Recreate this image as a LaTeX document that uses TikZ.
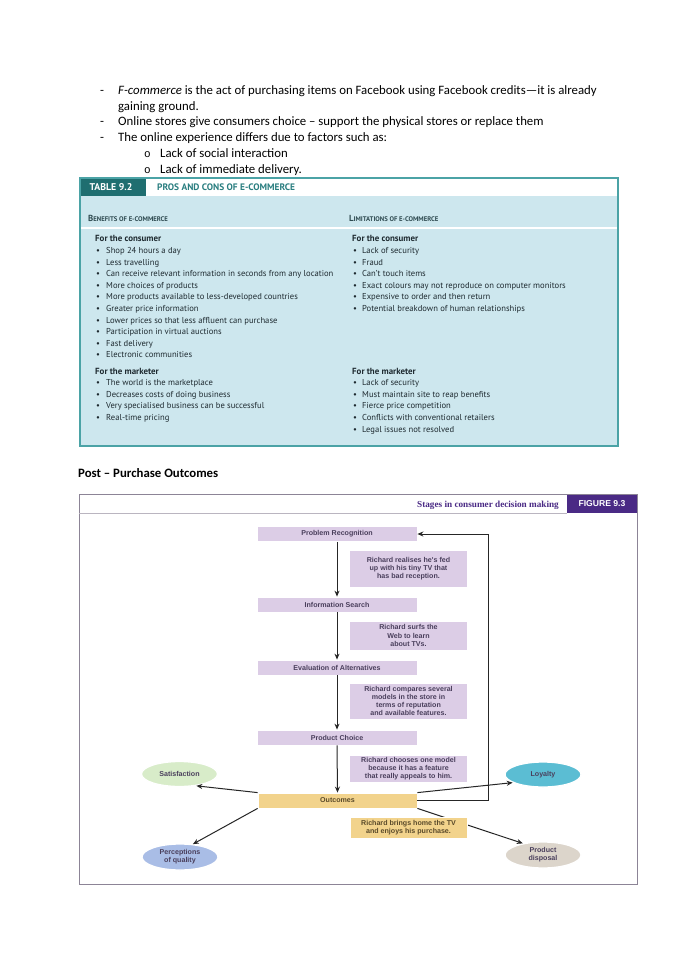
\documentclass[tikz,border=0pt]{standalone}
\usepackage{fontspec}
\setmainfont{Carlito}
\newfontfamily\tabfont{PT Sans}
\newfontfamily\figfont{Liberation Sans}
\newfontfamily\figserif{Liberation Serif}
\newfontfamily\monofnt{Liberation Mono}
\usetikzlibrary{arrows.meta,shapes.geometric}
\definecolor{tealdark}{HTML}{1F6E70}
\definecolor{tealline}{HTML}{4BA3A6}
\definecolor{tablefill}{HTML}{CDE7EE}
\definecolor{tealtext}{HTML}{2A7E80}
\definecolor{headtext}{HTML}{2E4A50}
\definecolor{bodytext}{HTML}{1E2A30}
\definecolor{figpurple}{HTML}{4A2A85}
\definecolor{figborder}{HTML}{8C8496}
\definecolor{stepfill}{HTML}{DCCDE6}
\definecolor{outfill}{HTML}{F2D38C}
\definecolor{figtext}{HTML}{4A3F5C}
\definecolor{outtext}{HTML}{5A4A2A}
\definecolor{satfill}{HTML}{D8ECC9}
\definecolor{loyfill}{HTML}{5BBDD3}
\definecolor{percfill}{HTML}{A9BDE6}
\definecolor{dispfill}{HTML}{DCD5CB}
\newcommand\myfsc[2]{{\fontsize{8.8}{9}\selectfont #1}{\fontsize{6.7}{9}\selectfont #2}}
\tikzset{
  bodytxt/.style={anchor=base west, inner sep=0, font=\fontsize{12.8}{15.6}\selectfont},
  obullet/.style={anchor=base west, inner sep=0, font=\monofnt\fontsize{11}{13}\selectfont},
  tabtxt/.style={anchor=base west, inner sep=0, text=bodytext, font=\tabfont\fontsize{8.6}{10}\selectfont},
  tabhead/.style={anchor=base west, inner sep=0, text=bodytext, font=\tabfont\bfseries\fontsize{8.9}{10}\selectfont},
  colhead/.style={anchor=base west, inner sep=0, text=headtext, font=\tabfont\bfseries},
  figtxt/.style={font=\figfont\bfseries\fontsize{7.1}{8.1}\selectfont},
  stepbox/.style={rectangle, fill=stepfill, draw=white, line width=0.8, minimum width=160, minimum height=15, inner sep=0, text=figtext, figtxt},
  notebox/.style={rectangle, fill=stepfill, draw=white, line width=0.8, minimum width=118, inner sep=0, align=center, text=figtext, figtxt},
  ell/.style={ellipse, draw=white, line width=1.3, inner sep=0, minimum width=76, minimum height=25, align=center, text=figtext, figtxt},
  arr/.style={draw=black!85, line width=1.0, -{Stealth[length=6,width=5]}},
}
\begin{document}
\begin{tikzpicture}[x=1pt,y=-1pt]
\useasboundingbox (0,0) rectangle (692,980);
\fill[white] (0,0) rectangle (692,980);

% ---------- top bullets ----------
\node[bodytxt] (d1) at (100,94) {-};
\node[bodytxt] (t1) at (118,94) {\textit{F-commerce} is the act of purchasing items on Facebook using Facebook credits—it is already};
\node[bodytxt] (t1b) at (118,110) {gaining ground.};
\node[bodytxt] (d2) at (100,125) {-};
\node[bodytxt] (t2) at (118,125) {Online stores give consumers choice – support the physical stores or replace them};
\node[bodytxt] (d3) at (100,141) {-};
\node[bodytxt] (t3) at (118,141) {The online experience differs due to factors such as:};
\node[obullet] (o1) at (144,157) {o};
\node[bodytxt] (s1) at (160,157) {Lack of social interaction};
\node[obullet] (o2) at (144,173) {o};
\node[bodytxt] (s2) at (160,173) {Lack of immediate delivery.};

% ---------- table ----------
\fill[tablefill] (80,196) rectangle (618,446);
\fill[white] (80,178) rectangle (618,196);
\draw[white, line width=1.6] (80,228) -- (618,228);
\fill[tealdark] (80,178) rectangle (146,196);
\draw[tealline, line width=1.2] (80,178) rectangle (618,446);
\node[anchor=center, inner sep=0, text=white, font=\tabfont\bfseries\fontsize{9.8}{10}\selectfont] (tabno) at (111,187.5) {TABLE 9.2};
\node[anchor=west, inner sep=0, text=tealtext, font=\tabfont\bfseries\fontsize{9.4}{10}\selectfont] (tabtitle) at (157,187.5) {PROS AND CONS OF E-COMMERCE};
\node[colhead] (chl) at (88,221) {\myfsc{B}{ENEFITS OF E-COMMERCE}};
\node[colhead] (chr) at (349,221) {\myfsc{L}{IMITATIONS OF E-COMMERCE}};

\node[tabhead] (lch) at (95,241) {For the consumer};
\foreach \t [count=\i from 0] in {Shop 24 hours a day, Less travelling, Can receive relevant information in seconds from any location, More choices of products, More products available to less-developed countries, Greater price information, Lower prices so that less affluent can purchase, Participation in virtual auctions, Fast delivery, Electronic communities}{
  \node[tabtxt] (lcb\i) at (96,253.4+11.6*\i) {•};
  \node[tabtxt] (lc\i) at (106,253.4+11.6*\i) {\t};
}
\node[tabhead] (lmh) at (95,374) {For the marketer};
\foreach \t [count=\i from 0] in {The world is the marketplace, Decreases costs of doing business, Very specialised business can be successful, Real-time pricing}{
  \node[tabtxt] (lmb\i) at (96,385.6+11.6*\i) {•};
  \node[tabtxt] (lm\i) at (106,385.6+11.6*\i) {\t};
}
\node[tabhead] (rch) at (352,241) {For the consumer};
\foreach \t [count=\i from 0] in {Lack of security, Fraud, Can’t touch items, Exact colours may not reproduce on computer monitors, Expensive to order and then return, Potential breakdown of human relationships}{
  \node[tabtxt] (rcb\i) at (353,253.4+11.6*\i) {•};
  \node[tabtxt] (rc\i) at (362,253.4+11.6*\i) {\t};
}
\node[tabhead] (rmh) at (352,374) {For the marketer};
\foreach \t [count=\i from 0] in {Lack of security, Must maintain site to reap benefits, Fierce price competition, Conflicts with conventional retailers, Legal issues not resolved}{
  \node[tabtxt] (rmb\i) at (353,385.6+11.6*\i) {•};
  \node[tabtxt] (rm\i) at (362,385.6+11.6*\i) {\t};
}

% ---------- heading ----------
\node[bodytxt, font=\bfseries\fontsize{12.8}{15.6}\selectfont] (post) at (78,477) {Post – Purchase Outcomes};

% ---------- figure ----------
\draw[figborder, line width=0.9] (79,494.5) rectangle (637,884);
\draw[figborder!60, line width=0.6] (79,513) -- (567,513);
\fill[figpurple] (567,494.5) rectangle (637,513);
\node[anchor=center, inner sep=0, text=white, font=\figfont\bfseries\fontsize{8.6}{10}\selectfont] (figno) at (602,504) {FIGURE 9.3};
\node[anchor=base east, inner sep=0, text=figpurple, font=\figserif\bfseries\fontsize{9.2}{10}\selectfont] (figtitle) at (559,507) {Stages in consumer decision making};

\node[stepbox] (prob) at (337,534) {Problem Recognition};
\node[notebox, minimum height=37] (n1) at (408.5,568.5) {Richard realises he's fed\\up with his tiny TV that\\has bad reception.};
\node[stepbox] (info) at (337,604.5) {Information Search};
\node[notebox, minimum height=29] (n2) at (408.5,635.5) {Richard surfs the\\Web to learn\\about TVs.};
\node[stepbox] (eval) at (337,667.5) {Evaluation of Alternatives};
\node[notebox, minimum height=36] (n3) at (408.5,701) {Richard compares several\\models in the store in\\terms of reputation\\and available features.};
\node[stepbox] (choice) at (337,737.5) {Product Choice};
\node[notebox, minimum height=27] (n4) at (408.5,768.5) {Richard chooses one model\\because it has a feature\\that really appeals to him.};
\node[stepbox, fill=outfill, text=outtext, minimum width=159] (out) at (337.5,800.5) {Outcomes};

\node[ell, fill=satfill] (sat) at (179.5,774) {Satisfaction};
\node[ell, fill=loyfill] (loy) at (543,774.5) {Loyalty};
\node[ell, fill=percfill, minimum height=26] (perc) at (180,857) {Perceptions\\of quality};
\node[ell, fill=dispfill, minimum height=26] (disp) at (543,855) {Product\\disposal};

\draw[arr] (out.south east) -- (disp.150);
\node[notebox, fill=outfill, text=outtext, minimum width=117, minimum height=21] (n5) at (408.5,827.5) {Richard brings home the TV\\and enjoys his purchase.};

\draw[arr] (prob.south) -- (info.north);
\draw[arr] (info.south) -- (eval.north);
\draw[arr] (eval.south) -- (choice.north);
\draw[arr] (choice.south) -- (out.north);
\draw[arr] (out.north west) -- (sat.-35);
\draw[arr] (out.south west) -- (perc.45);
\draw[arr] (out.north east) -- (loy.195);
\coordinate (fb) at (488,800.5);
\draw[arr] (out.east) -- (fb) |- (prob.east);
\end{tikzpicture}
\end{document}
